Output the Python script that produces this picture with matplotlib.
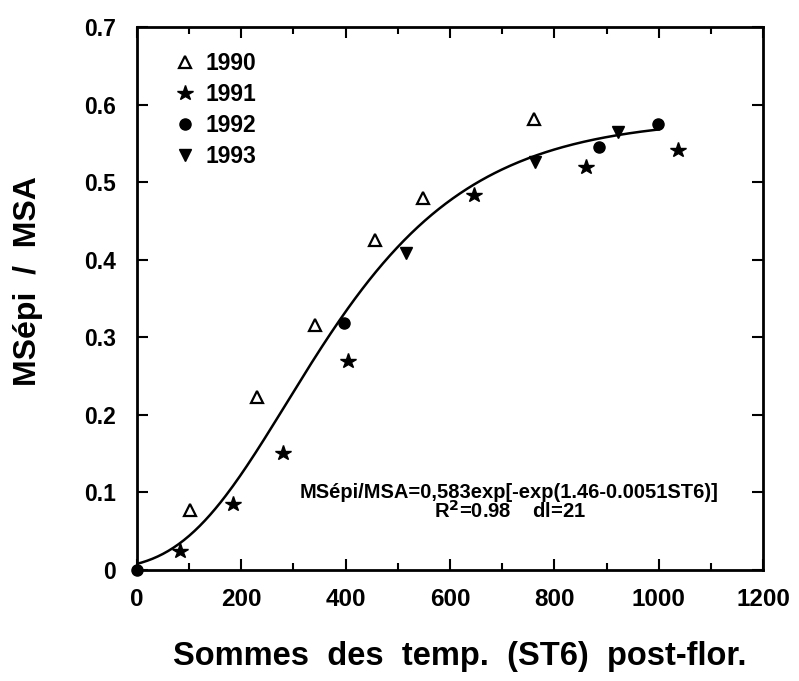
import numpy as np
import matplotlib
matplotlib.use("Agg")
import matplotlib.pyplot as plt

plt.rcParams["font.family"] = ["Liberation Sans", "DejaVu Sans"]
plt.rcParams["font.weight"] = "bold"

# observed points per year
x_1990 = [102, 231, 342, 456, 549, 761]
y_1990 = [0.077, 0.223, 0.316, 0.425, 0.480, 0.581]
x_1991 = [83, 184, 280, 405, 645, 860, 1037]
y_1991 = [0.025, 0.085, 0.151, 0.269, 0.483, 0.520, 0.542]
x_1992 = [0, 396, 886, 998]
y_1992 = [0.0, 0.318, 0.545, 0.575]
x_1993 = [516, 763, 922]
y_1993 = [0.408, 0.526, 0.564]

# fitted Gompertz model printed on the chart
a, b, c = 0.583, 1.46, 0.0051
st6 = np.linspace(0, 1000, 300)
fit = a * np.exp(-np.exp(b - c * st6))

xticks = [0, 200, 400, 600, 800, 1000, 1200]
yticks = [0, 0.1, 0.2, 0.3, 0.4, 0.5, 0.6, 0.7]
ytick_labels = ["0", "0.1", "0.2", "0.3", "0.4", "0.5", "0.6", "0.7"]

fig = plt.figure(figsize=(7.99, 6.81), dpi=100)
ax = fig.add_axes([0.1712, 0.163, 0.9553 - 0.1712, 0.9604 - 0.163])

ax.plot(st6, fit, color="black", lw=1.8, zorder=2)
ax.plot(x_1990, y_1990, ls="none", marker="^", ms=9, mfc="white", mec="black", mew=1.6, label="1990", zorder=3)
ax.plot(x_1991, y_1991, ls="none", marker="*", ms=11.5, color="black", label="1991", zorder=3)
ax.plot(x_1992, y_1992, ls="none", marker="o", ms=8, color="black", label="1992", zorder=3, clip_on=False)
ax.plot(x_1993, y_1993, ls="none", marker="v", ms=8, color="black", label="1993", zorder=3)

ax.set_xlim(0, 1200)
ax.set_ylim(0, 0.7)
ax.set_xticks(xticks)
ax.set_xticklabels([str(t) for t in xticks], fontsize=17.5, fontweight="bold")
ax.set_xticks(np.arange(100, 1200, 200), minor=True)
ax.set_yticks(yticks)
ax.set_yticklabels(ytick_labels, fontsize=16.5, fontweight="bold")

for s in ax.spines.values():
    s.set_linewidth(2)
ax.tick_params(which="both", direction="in", top=True, right=True, width=1.5)
ax.tick_params(which="major", length=8)
ax.tick_params(which="minor", length=5)
ax.tick_params(axis="x", which="major", pad=13)
ax.tick_params(axis="y", which="major", pad=15)

ax.set_xlabel("Sommes  des  temp.  (ST6)  post-flor.", fontsize=23.5, fontweight="bold")
ax.xaxis.set_label_coords(0.516, -0.13)
ax.set_ylabel("MSépi  /  MSA", fontsize=23, fontweight="bold")
ax.yaxis.set_label_coords(-0.15, 0.532)

ax.text(0.595, 0.143, "MSépi/MSA=0,583exp[-exp(1.46-0.0051ST6)]", transform=ax.transAxes,
        ha="center", va="center", fontsize=14.5, fontweight="bold")
ax.text(0.595, 0.108, "R$^{\\mathbf{2}}$=0.98    dl=21", transform=ax.transAxes,
        ha="center", va="center", fontsize=14.5, fontweight="bold")

ax.legend(loc="upper left", bbox_to_anchor=(0.04, 0.97), frameon=False, prop={"size": 16.5, "weight": "bold"},
          handletextpad=0.3, labelspacing=0.34, handlelength=1.2, borderaxespad=0)

fig.savefig("out.png", dpi=100)
